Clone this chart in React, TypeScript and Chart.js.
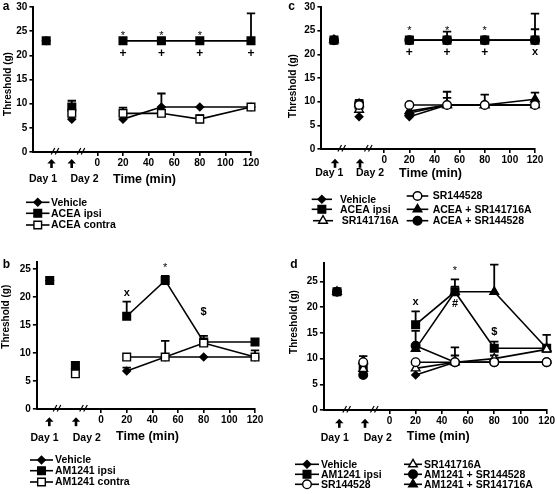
import React, { useEffect, useRef } from 'react';
import { Chart, registerables } from 'chart.js';

Chart.register(...registerables);

const FONT = '"Liberation Sans", Arial, Helvetica, sans-serif';

// ---------- shared axis data ----------
const xPositions = [-40, -20, 20, 50, 80, 120]; // Day 1, Day 2, then minutes
const xTickValues = [0, 20, 40, 60, 80, 100, 120];

// ---------- panel a ----------  (null = hidden under the filled Day 1 marker)
const aVehicle = [23, 6.8, 6.8, 9.3, 9.3, 9.3];
const aVehicleErr = [0, 0, 0, 2.8, 0, 0];
const aAceaIpsi = [23, 9.3, 23, 23, 23, 23];
const aAceaIpsiErr = [0, 1.3, 0, 0, 0, 5.7];
const aAceaContra = [null, 8, 8, 8, 6.8, 9.3];
const aAceaContraErr = [0, 0, 1.2, 0, 0.8, 0];

// ---------- panel c ----------
const cVehicle = [23, 6.8, 6.8, 9.3, 9.3, 9.3];
const cAceaIpsi = [23, 9.3, 23, 23, 23, 23];
const cAceaIpsiErr = [0, 1, 0, 1.8, 0, 5.6];
const cSR141716A = [null, 8.3, 8, 9.3, 9.3, 9.3];
const cSR141716AErr = [0, 0, 0, 1.5, 0, 0];
const cSR144528 = [null, 9.3, 9.3, 9.3, 9.3, 9.3];
const cAceaSR141716A = [23, 9.5, 7.6, 9.3, 9.3, 10.5];
const cAceaSR141716AErr = [0, 0.8, 0, 2.8, 2.2, 1.4];
const cAceaSR144528 = [23, 9.5, 23, 23, 23, 23];
const cAceaSR144528Err = [0, 0, 0, 0, 0, 2.3];

// ---------- panel b ----------
const bVehicle = [23, 7.3, 6.8, 9.3, 9.3, 9.3];
const bVehicleErr = [0, 0, 0.6, 0, 0, 0];
const bAmIpsi = [23, 7.8, 16.6, 23, 12, 12];
const bAmIpsiErr = [0, 0, 2.6, 0.8, 1.1, 0];
const bAmContra = [null, 6.3, 9.3, 9.3, 11.8, 9.3];
const bAmContraErr = [0, 0, 0, 2.9, 0, 1.2];

// ---------- panel d ----------
const dVehicle = [23, 7.5, 6.8, 9.3, 9.3, 9.3];
const dAmIpsi = [23, 8.3, 16.6, 23, 12, 12];
const dAmIpsiErr = [0, 0, 2.6, 2.4, 1.3, 0];
const dSR144528 = [null, 9.3, 9.3, 9.3, 9.3, 9.3];
const dSR141716A = [null, 8, 8.1, 9.3, 10, 11.8];
const dSR141716AErr = [0, 0, 0, 1.3, 0.6, 0];
const dAmSR144528 = [23, 6.8, 12.5, 9.3, 9.3, 9.3];
const dAmSR144528Err = [0, 0, 2.9, 2.9, 0, 0];
const dAmSR141716A = [23, 9.5, 11.9, 23, 23, 12];
const dAmSR141716AErr = [0, 1, 0, 1, 5.3, 2.6];

type MarkerKind = 'diamond' | 'square' | 'openSquare' | 'circle' | 'openCircle' | 'triangle' | 'openTriangle';

const MARKERS: Record<MarkerKind, { style: string; radius: number; fill: string }> = {
  diamond: { style: 'rectRot', radius: 3.8, fill: '#000' },
  square: { style: 'rect', radius: 5.4, fill: '#000' },
  openSquare: { style: 'rect', radius: 5.4, fill: '#fff' },
  circle: { style: 'circle', radius: 4.3, fill: '#000' },
  openCircle: { style: 'circle', radius: 4.3, fill: '#fff' },
  triangle: { style: 'triangle', radius: 5, fill: '#000' },
  openTriangle: { style: 'triangle', radius: 5, fill: '#fff' },
};

type Series = { label: string; values: (number | null)[]; errors?: number[]; marker: MarkerKind };
type Mark = { x: number; y: number; t: string };
type LegendItem = { label: string; marker: MarkerKind; x1: number; x2: number; tx: number; y: number };

type PanelCfg = {
  left: number; top: number; w: number; h: number;
  area: { left: number; right: number; top: number; bottom: number };
  yMax: number;
  series: Series[]; // first drawn on top
  letter: { t: string; x: number; y: number };
  yTitle: { x: number; y: number };
  texts: { t: string; x: number; y: number; size: number }[];
  arrows: number[]; arrowY: number;
  breaks: number[];
  marks: Mark[];
  legend: LegendItem[];
};

const panels: PanelCfg[] = [
  {
    left: 0, top: 0, w: 278, h: 248,
    area: { left: 33.4, right: 251, top: 6, bottom: 152 },
    yMax: 30,
    series: [
      { label: 'ACEA contra', values: aAceaContra, errors: aAceaContraErr, marker: 'openSquare' },
      { label: 'ACEA ipsi', values: aAceaIpsi, errors: aAceaIpsiErr, marker: 'square' },
      { label: 'Vehicle', values: aVehicle, errors: aVehicleErr, marker: 'diamond' },
    ],
    letter: { t: 'a', x: 6, y: 7 },
    yTitle: { x: 8, y: 84 },
    texts: [
      { t: 'Day 1', x: 43, y: 179.5, size: 10.5 },
      { t: 'Day 2', x: 84.5, y: 179.5, size: 10.5 },
      { t: 'Time (min)', x: 144.5, y: 179.5, size: 12.5 },
    ],
    arrows: [51.5, 71.7], arrowY: 163.5,
    breaks: [55, 81],
    marks: [
      { x: 20, y: 24.6, t: '*' }, { x: 50, y: 24.6, t: '*' }, { x: 80, y: 24.6, t: '*' },
      { x: 20, y: 20.3, t: '+' }, { x: 50, y: 20.3, t: '+' }, { x: 80, y: 20.3, t: '+' }, { x: 120, y: 20.3, t: '+' },
    ],
    legend: [
      { label: 'Vehicle', marker: 'diamond', x1: 26, x2: 49.5, tx: 51, y: 202.3 },
      { label: 'ACEA ipsi', marker: 'square', x1: 26, x2: 49.5, tx: 51, y: 213.3 },
      { label: 'ACEA contra', marker: 'openSquare', x1: 26, x2: 49.5, tx: 51, y: 225 },
    ],
  },
  {
    left: 278, top: 0, w: 279, h: 248,
    area: { left: 43.4, right: 257, top: 5, bottom: 149 },
    yMax: 30,
    series: [
      { label: 'SR144528', values: cSR144528, marker: 'openCircle' },
      { label: 'ACEA + SR144528', values: cAceaSR144528, errors: cAceaSR144528Err, marker: 'circle' },
      { label: 'ACEA + SR141716A', values: cAceaSR141716A, errors: cAceaSR141716AErr, marker: 'triangle' },
      { label: 'SR141716A', values: cSR141716A, errors: cSR141716AErr, marker: 'openTriangle' },
      { label: 'Vehicle', values: cVehicle, marker: 'diamond' },
      { label: 'ACEA ipsi', values: cAceaIpsi, errors: cAceaIpsiErr, marker: 'square' },
    ],
    letter: { t: 'c', x: 291.7, y: 7 },
    yTitle: { x: 293.3, y: 86 },
    texts: [
      { t: 'Day 1', x: 329.3, y: 173.3, size: 10.5 },
      { t: 'Day 2', x: 370, y: 173.3, size: 10.5 },
      { t: 'Time (min)', x: 430.5, y: 173.3, size: 12.5 },
    ],
    arrows: [335, 360], arrowY: 163.3,
    breaks: [341.7, 368.3],
    marks: [
      { x: 20, y: 25.5, t: '*' }, { x: 50, y: 25.5, t: '*' }, { x: 80, y: 25.5, t: '*' },
      { x: 20, y: 20.3, t: '+' }, { x: 50, y: 20.3, t: '+' }, { x: 80, y: 20.3, t: '+' }, { x: 120, y: 20.5, t: 'x' },
    ],
    legend: [
      { label: 'Vehicle', marker: 'diamond', x1: 311.7, x2: 332, tx: 340, y: 199.3 },
      { label: 'ACEA ipsi', marker: 'square', x1: 311.7, x2: 332, tx: 340, y: 209.3 },
      { label: 'SR141716A', marker: 'openTriangle', x1: 313, x2: 333, tx: 341.7, y: 220.7 },
      { label: 'SR144528', marker: 'openCircle', x1: 406.7, x2: 428.3, tx: 432.7, y: 196 },
      { label: 'ACEA + SR141716A', marker: 'triangle', x1: 406.7, x2: 428.3, tx: 432.7, y: 209.3 },
      { label: 'ACEA + SR144528', marker: 'circle', x1: 406.7, x2: 428.3, tx: 432.7, y: 220.7 },
    ],
  },
  {
    left: 0, top: 248, w: 278, h: 246,
    area: { left: 36.9, right: 255, top: 14, bottom: 161 },
    yMax: 26.3,
    series: [
      { label: 'AM1241 contra', values: bAmContra, errors: bAmContraErr, marker: 'openSquare' },
      { label: 'AM1241 ipsi', values: bAmIpsi, errors: bAmIpsiErr, marker: 'square' },
      { label: 'Vehicle', values: bVehicle, errors: bVehicleErr, marker: 'diamond' },
    ],
    letter: { t: 'b', x: 6.5, y: 265 },
    yTitle: { x: 6.7, y: 316.7 },
    texts: [
      { t: 'Day 1', x: 44.5, y: 438.3, size: 10.5 },
      { t: 'Day 2', x: 86.8, y: 438.3, size: 10.5 },
      { t: 'Time (min)', x: 147.5, y: 436.7, size: 12.5 },
    ],
    arrows: [49.3, 76], arrowY: 421.7,
    breaks: [57, 83.5],
    marks: [
      { x: 20, y: 20.7, t: 'x' }, { x: 50, y: 25.6, t: '*' }, { x: 80, y: 17.3, t: '$' },
    ],
    legend: [
      { label: 'Vehicle', marker: 'diamond', x1: 30, x2: 53, tx: 55, y: 460 },
      { label: 'AM1241 ipsi', marker: 'square', x1: 30, x2: 53, tx: 55, y: 470.7 },
      { label: 'AM1241 contra', marker: 'openSquare', x1: 30, x2: 53, tx: 55, y: 482 },
    ],
  },
  {
    left: 278, top: 248, w: 279, h: 246,
    area: { left: 45.9, right: 271.3, top: 15, bottom: 162 },
    yMax: 28.6,
    series: [
      { label: 'SR144528', values: dSR144528, marker: 'openCircle' },
      { label: 'SR141716A', values: dSR141716A, errors: dSR141716AErr, marker: 'openTriangle' },
      { label: 'AM1241 ipsi', values: dAmIpsi, errors: dAmIpsiErr, marker: 'square' },
      { label: 'AM1241 + SR141716A', values: dAmSR141716A, errors: dAmSR141716AErr, marker: 'triangle' },
      { label: 'AM1241 + SR144528', values: dAmSR144528, errors: dAmSR144528Err, marker: 'circle' },
      { label: 'Vehicle', values: dVehicle, marker: 'diamond' },
    ],
    letter: { t: 'd', x: 294, y: 265 },
    yTitle: { x: 294, y: 322 },
    texts: [
      { t: 'Day 1', x: 334.8, y: 437.7, size: 10.5 },
      { t: 'Day 2', x: 377.8, y: 437.7, size: 10.5 },
      { t: 'Time (min)', x: 438.3, y: 436.7, size: 12.5 },
    ],
    arrows: [339.3, 365], arrowY: 423.3,
    breaks: [346.7, 374.3],
    marks: [
      { x: 20, y: 21.1, t: 'x' }, { x: 50, y: 27.5, t: '*' }, { x: 50, y: 20.6, t: '#' }, { x: 80, y: 15.1, t: '$' },
    ],
    legend: [
      { label: 'Vehicle', marker: 'diamond', x1: 295, x2: 319, tx: 321, y: 464.3 },
      { label: 'AM1241 ipsi', marker: 'square', x1: 295, x2: 319, tx: 321, y: 474.3 },
      { label: 'SR144528', marker: 'openCircle', x1: 295, x2: 319, tx: 321, y: 484.3 },
      { label: 'SR141716A', marker: 'openTriangle', x1: 404, x2: 422, tx: 424, y: 464.3 },
      { label: 'AM1241 + SR144528', marker: 'circle', x1: 404, x2: 422, tx: 424, y: 474.3 },
      { label: 'AM1241 + SR141716A', marker: 'triangle', x1: 404, x2: 422, tx: 424, y: 484.3 },
    ],
  },
];

function drawMarker(ctx: CanvasRenderingContext2D, kind: MarkerKind, x: number, y: number) {
  const m = MARKERS[kind];
  const r = m.radius;
  ctx.beginPath();
  if (m.style === 'circle') {
    ctx.arc(x, y, r, 0, Math.PI * 2);
  } else if (m.style === 'rect') {
    const s = r * Math.SQRT1_2;
    ctx.rect(x - s, y - s, 2 * s, 2 * s);
  } else if (m.style === 'rectRot') {
    ctx.moveTo(x - r, y); ctx.lineTo(x, y - r); ctx.lineTo(x + r, y); ctx.lineTo(x, y + r); ctx.closePath();
  } else {
    let a = 0;
    ctx.moveTo(x + Math.sin(a) * r, y - Math.cos(a) * r);
    a += (2 * Math.PI) / 3;
    ctx.lineTo(x + Math.sin(a) * r, y - Math.cos(a) * r);
    a += (2 * Math.PI) / 3;
    ctx.lineTo(x + Math.sin(a) * r, y - Math.cos(a) * r);
    ctx.closePath();
  }
  ctx.fillStyle = m.fill;
  ctx.fill();
  ctx.lineWidth = 1.4;
  ctx.strokeStyle = '#000';
  ctx.stroke();
}

const errorBarPlugin = {
  id: 'errorBars',
  beforeDatasetsDraw(chart: any) {
    const ctx = chart.ctx as CanvasRenderingContext2D;
    const ys = chart.scales.y;
    ctx.save();
    ctx.strokeStyle = '#000';
    ctx.lineWidth = 1.8;
    chart.data.datasets.forEach((ds: any, i: number) => {
      const errs: number[] | undefined = ds.errors;
      if (!errs) return;
      const meta = chart.getDatasetMeta(i);
      meta.data.forEach((pt: any, j: number) => {
        const e = errs[j];
        const v = ds.data[j].y;
        if (!e || v === null || v === undefined) return;
        const yTop = ys.getPixelForValue(v + e);
        ctx.beginPath();
        ctx.moveTo(pt.x, pt.y);
        ctx.lineTo(pt.x, yTop);
        ctx.moveTo(pt.x - 4.2, yTop);
        ctx.lineTo(pt.x + 4.2, yTop);
        ctx.stroke();
      });
    });
    ctx.restore();
  },
};

function makeDecorPlugin(cfg: PanelCfg) {
  return {
    id: 'decor',
    afterDraw(chart: any) {
      const ctx = chart.ctx as CanvasRenderingContext2D;
      const ox = cfg.left;
      const oy = cfg.top;
      const xs = chart.scales.x;
      const ys = chart.scales.y;
      const axisY = chart.chartArea.bottom;
      ctx.save();
      ctx.fillStyle = '#000';
      ctx.strokeStyle = '#000';

      // panel letter
      ctx.font = `bold 12px ${FONT}`;
      ctx.textAlign = 'center';
      ctx.textBaseline = 'middle';
      ctx.fillText(cfg.letter.t, cfg.letter.x - ox, cfg.letter.y - oy);

      // y title
      ctx.save();
      ctx.translate(cfg.yTitle.x - ox, cfg.yTitle.y - oy);
      ctx.rotate(-Math.PI / 2);
      ctx.font = `bold 10px ${FONT}`;
      ctx.fillText('Threshold (g)', 0, 0);
      ctx.restore();

      // day / time labels
      cfg.texts.forEach((t) => {
        ctx.font = `bold ${t.size}px ${FONT}`;
        ctx.fillText(t.t, t.x - ox, t.y - oy);
      });

      // arrows
      cfg.arrows.forEach((ax) => {
        const x = ax - ox;
        const cy = cfg.arrowY - oy;
        ctx.beginPath();
        ctx.moveTo(x, cy - 4.5);
        ctx.lineTo(x - 4.2, cy);
        ctx.lineTo(x + 4.2, cy);
        ctx.closePath();
        ctx.fill();
        ctx.fillRect(x - 1.3, cy - 1, 2.6, 5.5);
      });

      // axis breaks
      ctx.lineWidth = 1.2;
      cfg.breaks.forEach((bx) => {
        const x = bx - ox;
        [-2, 2].forEach((d) => {
          ctx.beginPath();
          ctx.moveTo(x + d - 1.8, axisY + 2.5);
          ctx.lineTo(x + d + 1.8, axisY - 4);
          ctx.stroke();
        });
      });

      // significance marks
      cfg.marks.forEach((m) => {
        const px = xs.getPixelForValue(m.x);
        let py = ys.getPixelForValue(m.y);
        if (m.t === '*') {
          ctx.font = `11px ${FONT}`;
          py += 2.5;
        } else if (m.t === '+') {
          ctx.font = `bold 12px ${FONT}`;
        } else {
          ctx.font = `bold 11px ${FONT}`;
        }
        ctx.fillText(m.t, px, py);
      });

      // legend
      ctx.textAlign = 'left';
      ctx.font = `bold 10.5px ${FONT}`;
      cfg.legend.forEach((l) => {
        const y = l.y - oy;
        ctx.lineWidth = 1.6;
        ctx.beginPath();
        ctx.moveTo(l.x1 - ox, y);
        ctx.lineTo(l.x2 - ox, y);
        ctx.stroke();
        drawMarker(ctx, l.marker, (l.x1 + l.x2) / 2 - ox, y);
        ctx.fillStyle = '#000';
        ctx.fillText(l.label, l.tx - ox, y + 0.5);
      });
      ctx.restore();
    },
  };
}

function makeDataset(s: Series) {
  const m = MARKERS[s.marker];
  return {
    label: s.label,
    data: xPositions.map((x, i) => ({ x, y: s.values[i] })),
    errors: s.errors,
    borderColor: '#000',
    borderWidth: 1.6,
    backgroundColor: m.fill,
    pointStyle: m.style,
    pointRadius: m.radius,
    pointHoverRadius: m.radius,
    pointBackgroundColor: m.fill,
    pointBorderColor: '#000',
    pointBorderWidth: 1.4,
    tension: 0,
    clip: false,
    segment: {
      borderColor: (c: any) => (c.p0.parsed.x < 0 ? 'rgba(0,0,0,0)' : '#000'),
    },
  };
}

function Panel({ cfg }: { cfg: PanelCfg }) {
  const ref = useRef<HTMLCanvasElement>(null);
  useEffect(() => {
    if (!ref.current) return;
    const tickFont = { family: FONT, size: 10, weight: 'bold' as const, lineHeight: 1 };
    const chart = new Chart(ref.current, {
      type: 'line',
      data: { datasets: cfg.series.map(makeDataset) as any },
      options: {
        animation: false,
        responsive: false,
        devicePixelRatio: 1,
        events: [],
        layout: {
          padding: { left: 0, right: cfg.w - cfg.area.right, top: cfg.area.top, bottom: 0 },
        },
        plugins: { legend: { display: false }, tooltip: { enabled: false } },
        scales: {
          x: {
            type: 'linear',
            min: -50,
            max: 120,
            afterBuildTicks: (s: any) => {
              s.ticks = xTickValues.map((v) => ({ value: v }));
            },
            afterFit: (s: any) => {
              s.height = cfg.h - cfg.area.bottom;
            },
            grid: { drawOnChartArea: false, drawTicks: true, tickLength: 4, color: '#000', lineWidth: 1.6 },
            border: { color: '#000', width: 2 },
            ticks: { color: '#000', font: tickFont, padding: 2, maxRotation: 0, autoSkip: false },
          },
          y: {
            type: 'linear',
            min: 0,
            max: cfg.yMax,
            afterFit: (s: any) => {
              s.width = cfg.area.left;
            },
            grid: { drawOnChartArea: false, drawTicks: true, tickLength: 4, color: '#000', lineWidth: 1.6 },
            border: { color: '#000', width: 2 },
            ticks: { color: '#000', font: tickFont, padding: 2, stepSize: 5, includeBounds: false },
          },
        },
      } as any,
      plugins: [errorBarPlugin, makeDecorPlugin(cfg)],
    });
    return () => chart.destroy();
  }, [cfg]);
  return (
    <canvas
      ref={ref}
      width={cfg.w}
      height={cfg.h}
      style={{ position: 'absolute', left: cfg.left, top: cfg.top, width: cfg.w, height: cfg.h }}
    />
  );
}

export default function App() {
  return (
    <div style={{ position: 'absolute', left: 0, top: 0, width: 557, height: 494, background: '#fff', overflow: 'hidden' }}>
      {panels.map((p, i) => (
        <Panel key={i} cfg={p} />
      ))}
    </div>
  );
}
